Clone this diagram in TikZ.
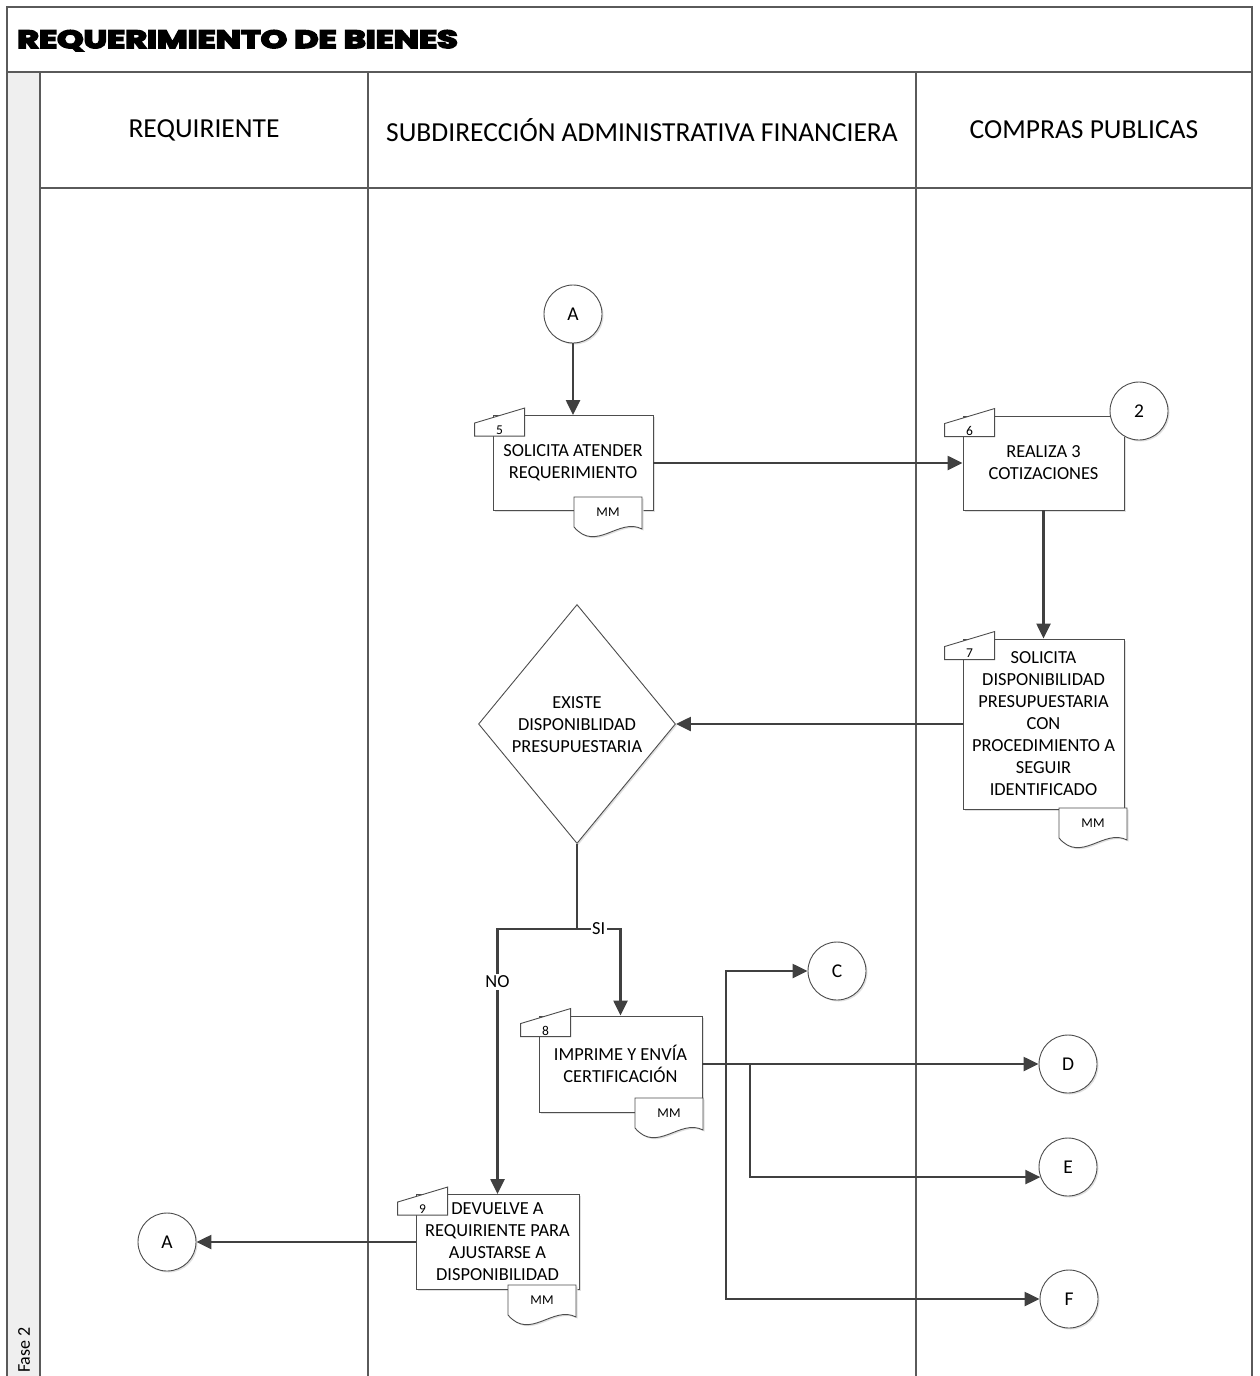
\documentclass[tikz,border=0pt]{standalone}
\usepackage{fontspec}
\setmainfont{Carlito}
\newfontfamily\titlefont{Poppins}[BoldFeatures={FakeBold=6}]
\usetikzlibrary{shapes.geometric,arrows.meta,shadows}

\definecolor{laneline}{HTML}{5A5A5A}
\definecolor{outline}{HTML}{4D4D4D}
\definecolor{flowline}{HTML}{404040}
\definecolor{stripfill}{HTML}{EFEFEF}

\newcommand{\boxfont}{\fontsize{18.4}{22}\selectfont}
\newcommand{\connfont}{\fontsize{19.5}{22}\selectfont}
\newcommand{\tinyfont}{\fontsize{13.5}{15}\selectfont}
\newcommand{\headfont}{\fontsize{27.5}{32}\selectfont}

\tikzset{
  lane/.style={draw=laneline, line width=1.8pt},
  shapeline/.style={draw=outline, line width=0.9pt},
  soft/.style={drop shadow={shadow xshift=1.5pt, shadow yshift=-1.5pt, fill=black!12, opacity=1}},
  stepbox/.style={rectangle, shapeline, fill=white, soft, align=center, inner sep=0pt, font=\boxfont},
  conn/.style={circle, shapeline, fill=white, soft, minimum size=58pt, inner sep=0pt, font=\connfont},
  flow/.style={draw=flowline, line width=2.4pt, -{Triangle[length=15pt,width=14pt]}},
  link/.style={draw=flowline, line width=2.4pt},
  lbl/.style={fill=white, inner sep=1.5pt, font=\boxfont},
}

% numbered tab (manual input shape) on the top-left corner of a step box
\newcommand{\steptab}[3]{%
  \draw[shapeline, fill=white]
    ([xshift=-18pt,yshift=-8pt]#1.north west) --
    ([xshift=32pt,yshift=7pt]#1.north west) --
    ([xshift=32pt,yshift=-21pt]#1.north west) --
    ([xshift=-18pt,yshift=-21pt]#1.north west) -- cycle;
  \node[font=\tinyfont, inner sep=0pt] (#2) at ([xshift=7pt,yshift=-15pt]#1.north west) {#3};}

% document shape labelled MM
\newcommand{\mmdoc}[3]{%
  \begin{scope}[shift={(#2,#3)}]
    \draw[shapeline, fill=white, soft] (0,0) -- (68,0) -- (68,32)
      .. controls (45,20) and (22,56) .. (0,30) -- cycle;
    \node[font=\tinyfont, inner sep=0pt] (#1) at (34,15) {MM};
  \end{scope}}

\begin{document}
\begin{tikzpicture}[x=1pt, y=-1pt]
\useasboundingbox (0,0) rectangle (1259,1376);

% pool frame, title band and lanes
\fill[stripfill] (7,72) rectangle (40,1376);
\draw[lane] (7,1376) -- (7,7) -- (1252,7) -- (1252,1376);
\draw[lane] (7,72) -- (1252,72);
\draw[lane] (40,72) -- (40,1376);
\draw[lane] (40,188) -- (1252,188);
\draw[lane] (368,72) -- (368,1376);
\draw[lane] (916,72) -- (916,1376);

\node[anchor=base west, inner sep=0pt, font={\titlefont\bfseries\fontsize{25}{30}\selectfont}] (title) at (17,48) {\scalebox{1.34}[1]{REQUERIMIENTO DE BIENES}};

\node[font=\headfont] (hReq) at (204,130) {REQUIRIENTE};
\node[font=\headfont] (hSub) at (642,130) {SUBDIRECCIÓN ADMINISTRATIVA FINANCIERA};
\node[font=\headfont] (hCom) at (1084,130) {COMPRAS PUBLICAS};

\node[rotate=90, font=\fontsize{18}{21}\selectfont] (fase) at (24,1350) {Fase 2};

% steps
\node[stepbox, minimum width=160pt, minimum height=95pt] (b5) at (573,463) {SOLICITA ATENDER\\REQUERIMIENTO};
\node[stepbox, minimum width=161pt, minimum height=94pt] (b6) at (1043.5,463) {REALIZA 3\\COTIZACIONES};
\node[stepbox, minimum width=161pt, minimum height=170pt] (b7) at (1043.5,724) {SOLICITA\\DISPONIBILIDAD\\PRESUPUESTARIA\\CON\\PROCEDIMIENTO A\\SEGUIR\\IDENTIFICADO};
\node[stepbox, minimum width=163pt, minimum height=96pt] (b8) at (620.5,1064) {IMPRIME Y ENVÍA\\CERTIFICACIÓN};
\node[stepbox, minimum width=163pt, minimum height=95pt] (b9) at (497.5,1242) {DEVUELVE A\\REQUIRIENTE PARA\\AJUSTARSE A\\DISPONIBILIDAD};

\steptab{b5}{n5}{5}
\steptab{b6}{n6}{6}
\steptab{b7}{n7}{7}
\steptab{b8}{n8}{8}
\steptab{b9}{n9}{9}

\mmdoc{d5}{574}{497}
\mmdoc{d7}{1059}{808}
\mmdoc{d8}{635}{1098}
\mmdoc{d9}{508}{1285}

% decision
\node[diamond, shapeline, fill=white, soft, minimum width=197pt, minimum height=239pt, inner sep=0pt] (dec) at (577,724) {};
\node[font=\boxfont, align=center] (decT) at (577,725) {EXISTE\\DISPONIBLIDAD\\PRESUPUESTARIA};

% connectors (off-page references)
\node[conn] (cA1) at (573,314) {A};
\node[conn] (c2) at (1139,411) {2};
\node[conn] (cC) at (837,971) {C};
\node[conn] (cD) at (1068,1064) {D};
\node[conn] (cE) at (1068,1167) {E};
\node[conn] (cF) at (1069,1299) {F};
\node[conn] (cA2) at (167,1242) {A};

% flow
\draw[flow] (cA1) -- (b5);
\draw[flow] (b5.east) -- (b5.east -| b6.west);
\draw[flow] (b6) -- (b7);
\draw[flow] (b7.west) -- (dec.east);

\coordinate (split) at (577,929);
\draw[link] (dec.south) -- (split);
\draw[flow] (split) -| (b8.north) node[lbl, pos=0.25] (si) {SI};
\draw[flow] (split) -| (b9.north) node[lbl, pos=0.6] (no) {NO};

\coordinate (jCF) at (726,1064);
\coordinate (jE) at (750,1064);
\draw[flow] (b8.east) -- (cD.west);
\draw[flow] (jE) |- (cE.200);
\draw[flow] (jCF) |- (cC.west);
\draw[flow] (jCF) |- (cF.west);

\draw[flow] (b9.west) -- (cA2.east);
\end{tikzpicture}
\end{document}
